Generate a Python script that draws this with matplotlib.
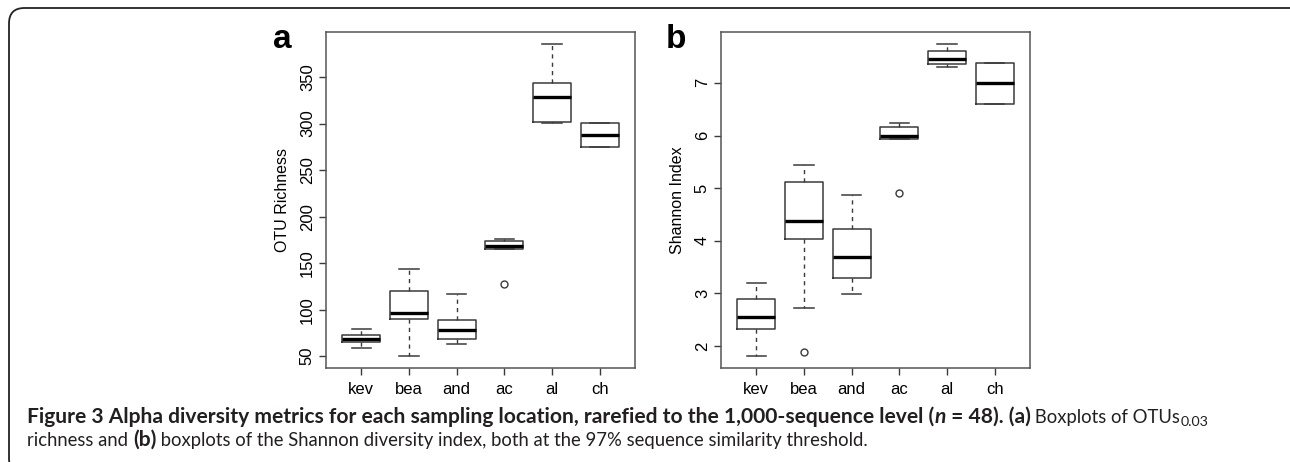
import matplotlib
matplotlib.use("Agg")
import matplotlib.pyplot as plt
from matplotlib.patches import FancyBboxPatch

# sampling locations
sites = ["kev", "bea", "and", "ac", "al", "ch"]

# OTU richness box stats
rich_whislo = [58.6, 50.7, 62.9, 164.9, 300.6, 274.8]
rich_q1 = [65.4, 90.1, 68.6, 164.9, 302.0, 274.8]
rich_med = [68.6, 96.5, 78.3, 168.1, 329.0, 287.4]
rich_q3 = [72.6, 120.2, 88.7, 173.5, 344.0, 300.3]
rich_whishi = [79.4, 143.8, 116.6, 176.0, 385.0, 300.3]
rich_fliers = [[], [], [], [127.3], [], []]
rich_ticks = [50, 100, 150, 200, 250, 300, 350]

# Shannon index box stats
shan_whislo = [1.82, 2.72, 2.98, 5.93, 7.30, 6.60]
shan_q1 = [2.32, 4.04, 3.30, 5.93, 7.35, 6.60]
shan_med = [2.56, 4.37, 3.70, 6.00, 7.45, 6.99]
shan_q3 = [2.90, 5.11, 4.22, 6.17, 7.60, 7.37]
shan_whishi = [3.20, 5.44, 4.87, 6.23, 7.73, 7.37]
shan_fliers = [[], [1.88], [], [4.90], [], []]
shan_ticks = [2, 3, 4, 5, 6, 7]

W, H = 1290, 462
fig = plt.figure(figsize=(W / 100, H / 100), dpi=100)

# rounded frame around the figure (right and bottom edges run off the image)
frame = FancyBboxPatch((9 / W, -12 / H), 1300 / W, (H - 8 + 12) / H,
                       boxstyle="round,pad=0,rounding_size=0.012",
                       transform=fig.transFigure, fill=False,
                       edgecolor="#222222", linewidth=1.3, mutation_aspect=W / H,
                       clip_on=False)
fig.patches.append(frame)

PLOT_FONT = "Liberation Sans"
LINE = "#3a3a3a"


def make_stats(lo, q1, med, q3, hi, fl):
    out = []
    for i in range(len(med)):
        out.append(dict(whislo=lo[i], q1=q1[i], med=med[i], q3=q3[i],
                        whishi=hi[i], fliers=fl[i]))
    return out


def draw_panel(rect, stats, ticks, ylabel, letter, letter_x):
    ax = fig.add_axes(rect)
    pos = list(range(1, len(sites) + 1))
    ax.bxp(stats, positions=pos, widths=0.8, capwidths=0.4,
           boxprops=dict(color=LINE, linewidth=1.1),
           whiskerprops=dict(color=LINE, linewidth=1.0, linestyle=(0, (3, 3))),
           capprops=dict(color=LINE, linewidth=1.1),
           medianprops=dict(color="black", linewidth=2.4, solid_capstyle="butt"),
           flierprops=dict(marker="o", markerfacecolor="none",
                           markeredgecolor=LINE, markersize=5, markeredgewidth=1.0))
    lo = min(s["whislo"] for s in stats)
    lo = min([lo] + [f for s in stats for f in s["fliers"]])
    hi = max(s["whishi"] for s in stats)
    pad = (hi - lo) * 0.04
    ax.set_ylim(lo - pad, hi + pad)
    ax.set_xlim(0.5 - 0.24, len(sites) + 0.5 + 0.24)
    ax.set_xticks(pos)
    ax.set_xticklabels(sites, fontfamily=PLOT_FONT, fontsize=12)
    ax.set_yticks(ticks)
    ax.set_yticklabels([str(t) for t in ticks], rotation=90, va="center",
                       fontfamily=PLOT_FONT, fontsize=12)
    ax.tick_params(direction="out", length=5, width=1.0, color=LINE, pad=3)
    ax.tick_params(axis="x", pad=5)
    for sp in ax.spines.values():
        sp.set_color("#555555")
        sp.set_linewidth(1.1)
    ax.set_ylabel(ylabel, fontfamily=PLOT_FONT, fontsize=11.5, labelpad=7)
    fig.text(letter_x / W, 1 - 48.5 / H, letter, fontfamily=PLOT_FONT,
             fontweight="bold", fontsize=24, ha="left", va="baseline")
    return ax


draw_panel([326 / W, 1 - 368 / H, 309 / W, 336 / H],
           make_stats(rich_whislo, rich_q1, rich_med, rich_q3, rich_whishi, rich_fliers),
           rich_ticks, "OTU Richness", "a", 273)
draw_panel([721 / W, 1 - 368 / H, 309 / W, 336 / H],
           make_stats(shan_whislo, shan_q1, shan_med, shan_q3, shan_whishi, shan_fliers),
           shan_ticks, "Shannon Index", "b", 666)

# caption, built from runs of differently styled text
CAP_FONT = ["Lato", "DejaVu Sans"]
line1 = [
    ("Figure 3 Alpha diversity metrics for each sampling location, rarefied to the 1,000-sequence level (", dict(fontweight="bold")),
    ("n", dict(fontweight="bold", fontstyle="italic")),
    (" = 48). (a)", dict(fontweight="bold")),
    (" Boxplots of OTUs", dict()),
    ("0.03", dict(sub=True)),
]
line2 = [
    ("richness and ", dict()),
    ("(b)", dict(fontweight="bold")),
    (" boxplots of the Shannon diversity index, both at the 97% sequence similarity threshold.", dict()),
]

renderer = fig.canvas.get_renderer()
REG_RATIO = 0.88  # the source's regular face is a narrow one


def put_runs(runs, x0, base, size):
    x = x0
    made = []
    for txt, kw in runs:
        kw = dict(kw)
        sub = kw.pop("sub", False)
        fs = size if kw.get("fontweight") == "bold" else size * REG_RATIO
        if sub:
            fs = size * 0.68
        y = base + (3.5 if sub else 0)
        t = fig.text(x / W, 1 - y / H, txt, fontfamily=CAP_FONT, fontsize=fs,
                     ha="left", va="baseline", color="#231f20", **kw)
        bb = t.get_window_extent(renderer)
        x += bb.width
        made.append(t)
    return x, made


# fit caption size to the width it takes in the source
size = 11
end, made = put_runs(line1, 27, 423, size)
for t in made:
    t.remove()
size = size * (1207 - 27) / (end - 27)
put_runs(line1, 27, 423, size)
put_runs(line2, 27, 446, size)

fig.savefig("out.png", dpi=100)
